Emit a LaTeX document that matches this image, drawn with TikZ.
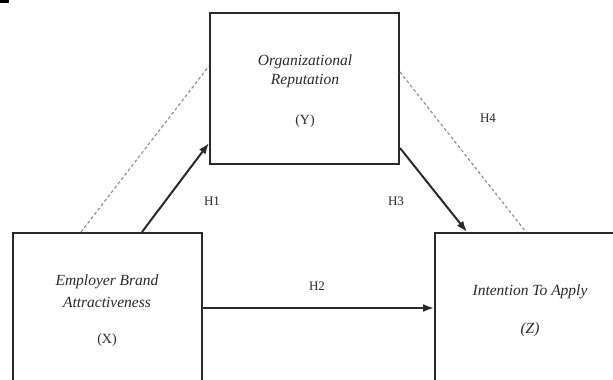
\documentclass[tikz,border=0pt]{standalone}
\usepackage{fontspec}
\setmainfont{Liberation Serif}
\usetikzlibrary{calc,arrows.meta}
\definecolor{ink}{HTML}{2A2A2A}
\definecolor{dash}{HTML}{8A8A8A}
\tikzset{
  box/.style={draw=ink, line width=2pt, fill=none, inner sep=0pt},
  lbl/.style={text=ink, font=\fontsize{15.5}{19}\selectfont\itshape, inner sep=0pt},
  tag/.style={text=ink, font=\fontsize{14}{17}\selectfont, inner sep=0pt},
  hyp/.style={text=ink, font=\fontsize{13}{15}\selectfont, inner sep=0pt},
  solidarrow/.style={draw=ink, line width=2pt, -{Latex[length=11pt,width=8pt]}},
  dashline/.style={draw=dash, line width=1.1pt, dash pattern=on 3pt off 2.5pt},
}
\begin{document}
\begin{tikzpicture}[x=1pt,y=-1pt]
\useasboundingbox (0,0) rectangle (613,380);
\clip (0,0) rectangle (613,380);
\fill[black] (0,0) rectangle (9,3);
% boxes
\node[box, minimum width=189pt, minimum height=151pt] (Y) at (304.5,88.5) {};
\node[box, minimum width=189pt, minimum height=200pt] (X) at (107.5,333) {};
\node[box, minimum width=220pt, minimum height=200pt] (Z) at (545,333) {};
% texts
\node[lbl] (y1) at (305,62) {Organizational};
\node[lbl] (y2) at (305,81) {Reputation};
\node[tag] (y3) at (305,121) {(Y)};
\node[lbl] (x1) at (107,282) {Employer Brand};
\node[lbl] (x2) at (107,302) {Attractiveness};
\node[tag] (x3) at (107,340) {(X)};
\node[lbl] (z1) at (530,292) {Intention To Apply};
\node[lbl] (z3) at (530,330) {(Z)};
% connector end points on borders
\coordinate (xd) at ($(X.north west)+(69,0)$);
\coordinate (xa) at ($(X.north west)+(130,0)$);
\coordinate (yl) at ($(Y.north west)+(0,54)$);
\coordinate (ya) at ($(Y.south west)+(0,-22)$);
\coordinate (yr) at ($(Y.north east)+(0,60)$);
\coordinate (yb) at ($(Y.south east)+(0,-17)$);
\coordinate (zd) at ($(Z.north west)+(92,0)$);
\coordinate (za) at ($(Z.north west)+(33,0)$);
\coordinate (xr) at ($(X.north east)+(0,76)$);
\coordinate (zl) at ($(Z.north west)+(0,76)$);
% connectors
\draw[dashline] (xd) -- (yl);
\draw[dashline] (yr) -- (zd);
\draw[solidarrow] (xa) -- (ya);
\draw[solidarrow] (yb) -- (za);
\draw[solidarrow] (xr) -- (zl);
% hypothesis labels
\node[hyp] (h1) at (212,201) {H1};
\node[hyp] (h2) at (317,286) {H2};
\node[hyp] (h3) at (396,201) {H3};
\node[hyp] (h4) at (488,118) {H4};
\end{tikzpicture}
\end{document}
